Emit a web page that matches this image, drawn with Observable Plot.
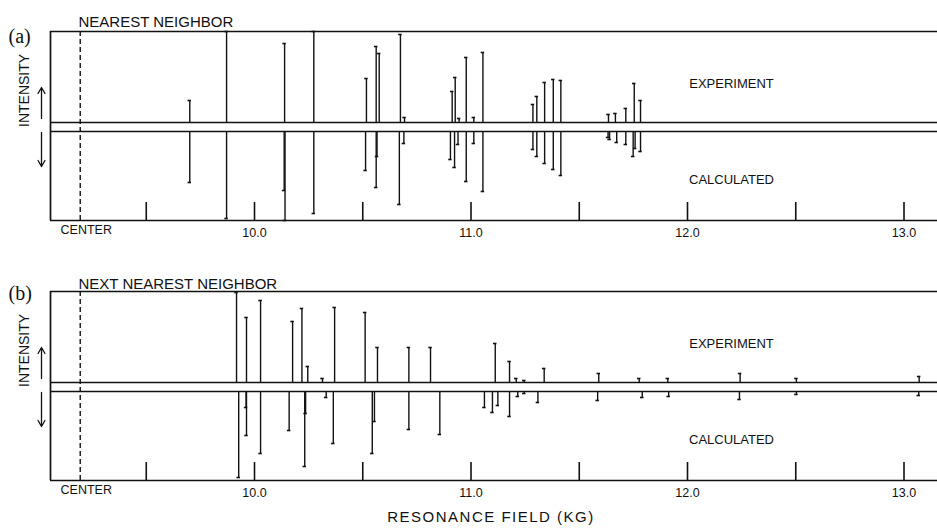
<!DOCTYPE html>
<html><head><meta charset="utf-8">
<script src="https://cdn.jsdelivr.net/npm/d3@7"></script>
<script src="https://cdn.jsdelivr.net/npm/@observablehq/plot@0.6"></script>
<style>
body{margin:0;background:#fff;}
#wrap{position:relative;width:937px;height:531px;font-family:"Liberation Sans",Arial,sans-serif;color:#111;}
.panel{position:absolute;left:0;}
#xlabel{position:absolute;left:0;width:982px;top:508px;text-align:center;font-size:15px;letter-spacing:1.5px;}
</style></head><body><div id="wrap"><div id="pa" class="panel" style="top:0"></div><div id="pb" class="panel" style="top:260px"></div><div id="xlabel">RESONANCE FIELD (KG)</div></div>
<script>
// ---------- data ----------
const fieldTicks = [9.5, 10.0, 10.5, 11.0, 11.5, 12.0, 12.5, 13.0];
const labelTicks = [10, 11, 12, 13];
const centerField = 9.195;
const panelLetters = ["(a)", "(b)"];
const panelTitles = ["NEAREST NEIGHBOR", "NEXT NEAREST NEIGHBOR"];

// panel (a) nearest neighbor
const aExpField = [9.701, 9.871, 10.139, 10.274, 10.517, 10.562, 10.576, 10.674, 10.693, 10.913, 10.927, 10.945, 10.978, 11.013, 11.055, 11.286, 11.304, 11.340, 11.380, 11.415, 11.635, 11.667, 11.715, 11.754, 11.783];
const aExpInt   = [22, 91, 79, 91, 44, 76, 69, 88, 5, 31, 45, 4, 65, 5, 70, 18, 26, 40, 43, 42, 8, 9, 14, 39, 22];
const aCalField = [9.701, 9.871, 10.137, 10.141, 10.274, 10.513, 10.562, 10.566, 10.669, 10.690, 10.905, 10.924, 10.940, 10.978, 11.013, 11.055, 11.286, 11.304, 11.340, 11.380, 11.415, 11.633, 11.640, 11.673, 11.715, 11.749, 11.758, 11.783];
const aCalInt   = [51, 87, 59, 89, 82, 39, 56, 25, 73, 12, 28, 36, 13, 50, 12, 60, 18, 25, 32, 38, 44, 6, 8, 11, 13, 25, 17, 20];

// panel (b) next nearest neighbor
const bExpField = [9.917, 9.963, 10.028, 10.176, 10.219, 10.246, 10.314, 10.370, 10.511, 10.568, 10.713, 10.813, 11.112, 11.178, 11.209, 11.246, 11.338, 11.590, 11.777, 11.909, 12.243, 12.503, 13.070];
const bExpInt   = [90, 65, 82, 61, 74, 16, 4, 75, 70, 35, 35, 35, 39, 21, 4, 2, 14, 9, 4, 4, 9, 4, 6];
const bCalField = [9.927, 9.961, 9.963, 10.028, 10.160, 10.232, 10.236, 10.331, 10.364, 10.544, 10.554, 10.713, 10.856, 11.062, 11.099, 11.124, 11.178, 11.216, 11.246, 11.309, 11.585, 11.791, 11.913, 12.240, 12.503, 13.068];
const bCalInt   = [86, 16, 44, 62, 39, 75, 22, 6, 52, 62, 30, 38, 43, 16, 21, 14, 25, 5, 2, 11, 9, 6, 5, 8, 3, 4];

// ---------- drawing ----------
const G = 4.5;            // half-gap of baseline strip
const yTop = 95.5, yBot = -93.5;
const xDomain = [9.0577, 13.1547];
const FONT = "'Liberation Sans', Arial, sans-serif";

function panel(k, expF, expI, calF, calI) {
  const exp = expF.map((f, i) => ({f, y1: G, y2: G + expI[i]}));
  const cal = calF.map((f, i) => ({f, y1: -G, y2: -G - calI[i]}));
  const ends = exp.concat(cal);
  return Plot.plot({
    width: 937, height: 245,
    marginTop: 31, marginBottom: 25, marginLeft: 50, marginRight: 0,
    style: {background: "#fff", color: "#111", fontFamily: FONT, fontSize: "12.5px", overflow: "visible"},
    x: {domain: xDomain, ticks: labelTicks, tickSize: 0, tickPadding: 8, tickFormat: d => d.toFixed(1), label: null},
    y: {domain: [yBot, yTop], axis: null},
    marks: [
      Plot.ruleY([yTop], {stroke: "#111", strokeWidth: 1.7}),
      Plot.ruleY([yBot], {stroke: "#111", strokeWidth: 1.7}),
      Plot.ruleX([xDomain[0]], {stroke: "#111", strokeWidth: 1.7}),
      Plot.ruleY([G, -G], {stroke: "#111", strokeWidth: 1.6}),
      Plot.ruleX([centerField], {stroke: "#111", strokeWidth: 1.4, strokeDasharray: "5,3"}),
      Plot.ruleX(fieldTicks, {x: d => d, y1: yBot, y2: yBot + 18, stroke: "#111", strokeWidth: 1.6}),
      Plot.ruleX(exp, {x: "f", y1: "y1", y2: "y2", stroke: "#111", strokeWidth: 1.4}),
      Plot.ruleX(cal, {x: "f", y1: "y1", y2: "y2", stroke: "#111", strokeWidth: 1.4}),
      Plot.ruleY(ends, {y: "y2", x1: d => d.f - 0.008, x2: d => d.f + 0.008, stroke: "#111", strokeWidth: 1.6}),
      Plot.text(["CENTER"], {x: () => centerField, frameAnchor: "bottom", dy: 13, dx: 6, text: d => d, fontSize: 12.5}),
      Plot.text([panelLetters[k]], {frameAnchor: "top-left", textAnchor: "start", dx: -42, dy: k ? -6 : -3, text: d => d, fontFamily: "'Liberation Serif', serif", fontSize: 20, letterSpacing: 2}),
      Plot.text([panelTitles[k]], {frameAnchor: "top-left", textAnchor: "start", dx: 28, dy: k ? -13.5 : -15, text: d => d, fontSize: 15}),
      Plot.text(["EXPERIMENT"], {frameAnchor: "top-right", textAnchor: "middle", dx: -206, dy: 47, text: d => d, fontSize: 13, letterSpacing: 0.4}),
      Plot.text(["CALCULATED"], {frameAnchor: "top-right", textAnchor: "middle", dx: -206, dy: 143, text: d => d, fontSize: 13, letterSpacing: 0.4}),
      Plot.text(["INTENSITY"], {frameAnchor: "left", y: () => 0, dx: -26, rotate: -90, text: d => d, fontSize: 14, letterSpacing: 0.4}),
      Plot.arrow([0], {x1: () => xDomain[0], x2: () => xDomain[0], y1: 8.5, y2: 39.5, dx: -9, headLength: 8, stroke: "#111", strokeWidth: 1.3}),
      Plot.arrow([0], {x1: () => xDomain[0], x2: () => xDomain[0], y1: -5.5, y2: -39.5, dx: -9, headLength: 8, stroke: "#111", strokeWidth: 1.3})
    ]
  });
}

document.getElementById("pa").append(panel(0, aExpField, aExpInt, aCalField, aCalInt));
document.getElementById("pb").append(panel(1, bExpField, bExpInt, bCalField, bCalInt));
</script>
</body></html>
